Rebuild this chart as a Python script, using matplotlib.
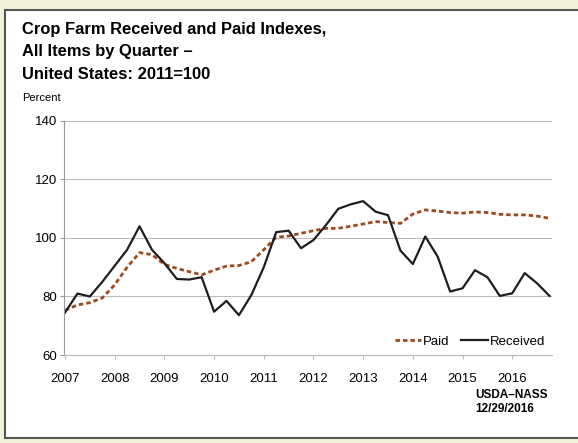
# crop farm received / paid indexes - quarterly line chart

import matplotlib.pyplot as plt
from matplotlib.patches import Rectangle

plt.rcParams['font.family'] = ['Liberation Sans', 'DejaVu Sans']

# quarters 2007Q1 .. 2016Q4
years = list(range(2007, 2017))
quarters = [y + q / 4 for y in years for q in range(4)]

received = [74.5, 81, 80, 85, 90.5, 96, 104, 96,
            91.4, 86, 85.8, 86.6, 74.8, 78.5, 73.6, 80.5,
            90, 102, 102.5, 96.5, 99.3, 104.4, 110, 111.5,
            112.6, 109, 107.8, 95.7, 91.1, 100.5, 93.6, 81.7,
            82.8, 89, 86.6, 80.2, 81.1, 88, 84.5, 80.2]

paid = [75.3, 77.1, 77.9, 79.5, 84, 90, 95, 94.3,
        91, 89.6, 88.5, 87.4, 89, 90.4, 90.6, 91.9,
        96, 100.2, 100.7, 101.6, 102.5, 103.3, 103.3, 104,
        104.8, 105.6, 105.3, 105, 108.2, 109.6, 109.2, 108.7,
        108.5, 108.9, 108.7, 108.1, 107.9, 107.9, 107.5, 106.7]

y_ticks = [60, 80, 100, 120, 140]

fig = plt.figure(figsize=(5.78, 4.43), dpi=100)
fig.patch.set_facecolor('#f2f0d8')

# white page with dark frame (scanned look)
page = Rectangle((5 / 578, 5 / 443), 1.0, 1 - 15 / 443, transform=fig.transFigure,
                 facecolor='white', edgecolor='#555555', linewidth=1.5, zorder=-5)
fig.patches.append(page)

ax = fig.add_axes([64 / 578, 1 - 355 / 443, (552 - 64) / 578, (355 - 121) / 443])
ax.set_zorder(3)
ax.set_facecolor('none')

ax.plot(quarters, paid, color='#9a4a1c', linestyle=(0, (1.6, 1.1)), linewidth=2.0, label='Paid')
ax.plot(quarters, received, color='#1e1e1e', linewidth=1.6, label='Received')

ax.set_xlim(2006.98, 2016.8)
ax.set_ylim(60, 140)
ax.set_xticks(years)
ax.set_xticklabels([str(y) for y in years], fontsize=9.5)
ax.set_yticks(y_ticks)
ax.set_yticklabels([str(v) for v in y_ticks], fontsize=9.5)
ax.tick_params(axis='y', length=3, color='#999999', pad=2)
ax.tick_params(axis='x', length=3, color='#bbbbbb', pad=10)

# grid lines
ax.grid(axis='y', color='#bbbbbb', linewidth=0.8)
for s in ['top', 'right']:
    ax.spines[s].set_visible(False)
ax.spines['left'].set_color('#999999')
ax.spines['bottom'].set_color('#bbbbbb')

ax.legend(loc='lower right', bbox_to_anchor=(1.01, -0.02), ncol=2, frameon=False,
          fontsize=9.5, handlelength=2.0, handletextpad=0.15, columnspacing=0.9)

fig.text(22 / 578, 1 - 22 / 443,
         'Crop Farm Received and Paid Indexes,\nAll Items by Quarter \u2013\nUnited States: 2011=100',
         fontsize=11.9, fontweight='bold', va='top', ha='left', linespacing=1.62)
fig.text(22 / 578, 1 - 98 / 443, 'Percent', fontsize=8, va='center', ha='left')
fig.text(475 / 578, 1 - 402 / 443, 'USDA\u2013NASS\n12/29/2016', fontsize=8.5,
         fontweight='bold', va='center', ha='left', linespacing=1.15)

plt.savefig('out.png', dpi=100)
